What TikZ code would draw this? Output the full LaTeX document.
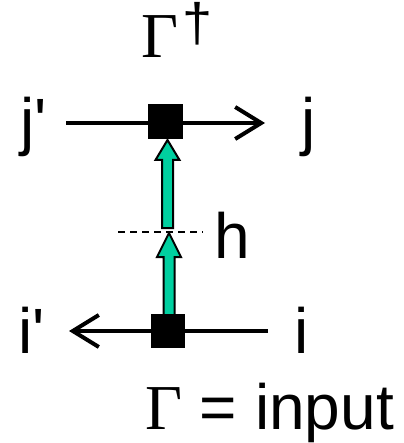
\documentclass[tikz,border=0pt]{standalone}
\usepackage{fontspec}
\setmainfont{Liberation Sans}[Ligatures=TeXOff]
\newfontfamily\tms{Liberation Serif}
\usetikzlibrary{arrows.meta,calc}
\definecolor{teal1}{RGB}{0,208,160}
\tikzset{
  lbl/.style={inner sep=0pt,anchor=base west,font=\fontsize{64}{70}\selectfont},
  sqbox/.style={fill=black,draw=none,minimum size=35pt,inner sep=0pt},
  wire/.style={line width=4pt},
  barb/.style={-{Straight Barb[length=26pt,width=32pt,line width=4pt]}},
  blockarrow/.style={fill=teal1,draw=black,line width=2pt,line join=miter},
  guide/.style={dashed,line width=1.5pt,dash pattern=on 7pt off 5pt}
}
\begin{document}
\begin{tikzpicture}[x=1pt,y=-1pt]
\useasboundingbox (0,0) rectangle (403,443);
% labels
\node[lbl] (gtop) at (141,58) {\tms Γ};
\node[inner sep=0pt,anchor=base west,font=\fontsize{54}{56}\selectfont] (dag) at (182,41.5) {†};
\node[lbl] (jp) at (20,144) {j'};
\node[lbl] (j) at (301,144) {j};
\node[lbl] (h) at (214,258) {h};
\node[lbl] (ip) at (18,353) {i'};
\node[lbl] (i) at (294,353) {i};
\node[lbl] (gin) at (145,429) {{\tms Γ} = input};
% wire end points
\coordinate (a1) at (66,123);
\coordinate (a2) at (265,123);
\coordinate (b1) at (268,331);
\coordinate (b2) at (69,331);
\coordinate (d1) at (118,232);
\coordinate (d2) at (203,232);
% block arrows
\coordinate (t1) at (167.5,140);
\coordinate (s1) at (167.5,228);
\coordinate (t2) at (169,233);
\coordinate (s2) at (169,316);
\draw[guide] (d1) -- (d2);
\draw[blockarrow] (t1) -- ($(t1)+(12,20)$) -- ($(t1)+(5.5,20)$) -- ($(s1)+(5.5,0)$) -- ($(s1)+(-5.5,0)$) -- ($(t1)+(-5.5,20)$) -- ($(t1)+(-12,20)$) -- cycle;
\draw[blockarrow] (t2) -- ($(t2)+(12,24)$) -- ($(t2)+(5.5,24)$) -- ($(s2)+(5.5,0)$) -- ($(s2)+(-5.5,0)$) -- ($(t2)+(-5.5,24)$) -- ($(t2)+(-12,24)$) -- cycle;
% wires
\draw[wire,barb] (a1) -- (a2);
\draw[wire,barb] (b1) -- (b2);
% vertices
\node[sqbox] (v1) at (165.5,121.5) {};
\node[sqbox,minimum size=34pt] (v2) at (168,331) {};
\end{tikzpicture}
\end{document}
